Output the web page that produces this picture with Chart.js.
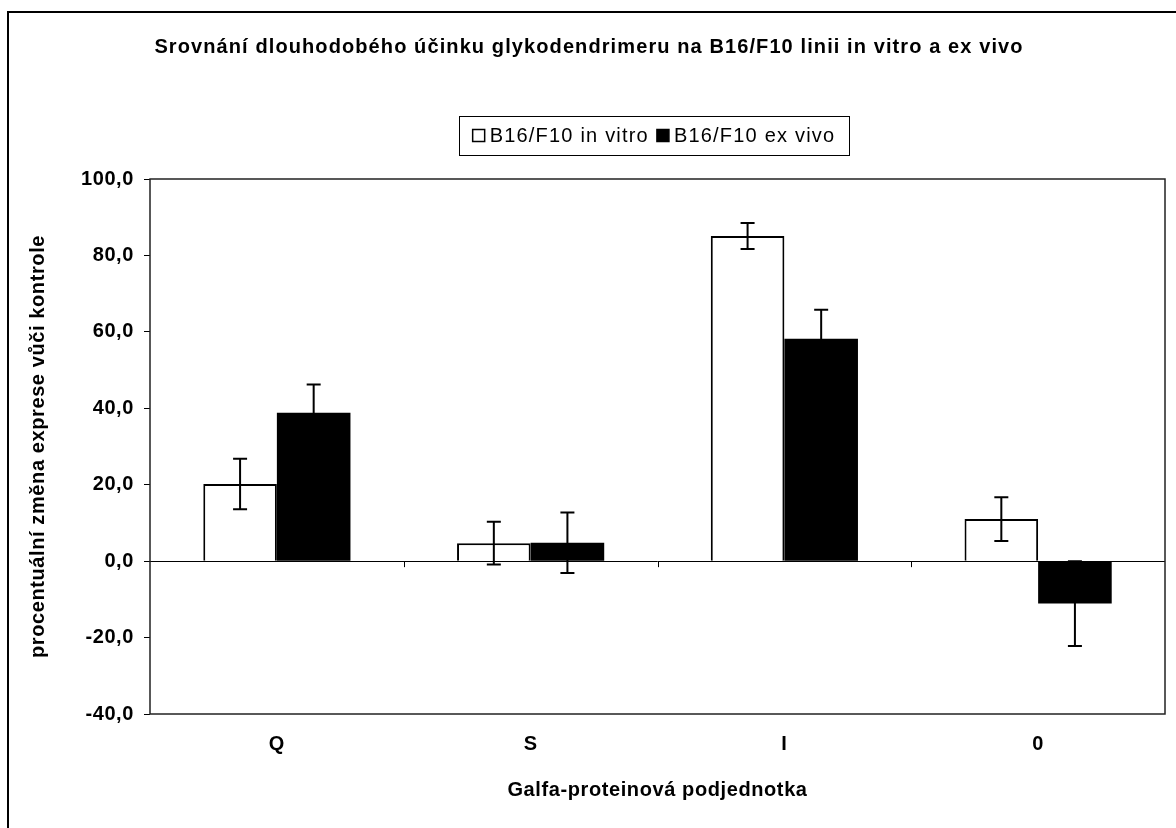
<!DOCTYPE html>
<html>
<head>
<meta charset="utf-8">
<script src="https://cdn.jsdelivr.net/npm/chart.js@4"></script>
<style>
body{margin:0;background:#fff;}
#wrap{width:1176px;height:828px;position:relative;}
</style>
</head>
<body>
<div id="wrap"><canvas id="chart"></canvas></div>
<script>
const categories = ["Q", "S", "I", "0"];
const inVitro = [20.2, 4.7, 85.1, 11.0];
const inVitroErr = [6.6, 5.6, 3.4, 5.7];
const exVivo = [38.8, 4.8, 58.2, -11.1];
const exVivoErr = [7.4, 7.9, 7.6, 11.1];
const yTicks = [-40, -20, 0, 20, 40, 60, 80, 100];

const titleText = "Srovnání dlouhodobého účinku glykodendrimeru na B16/F10 linii in vitro a ex vivo";
const yTitle = "procentuální změna exprese vůči kontrole";
const xTitle = "Galfa-proteinová podjednotka";

const FONT = "'Liberation Sans', Arial, sans-serif";
const errors = [inVitroErr, exVivoErr];

// scanned text runs a little wider than plain Arial
const spacing = {
id: "spacing",
beforeDraw(chart){
chart.ctx.letterSpacing = "0.6px";
}
};

// frame, title, legend
const decor = {
id: "decor",
afterDraw(chart){
const ctx = chart.ctx;
const a = chart.chartArea;
ctx.save();

// outer frame (top + left only visible)
ctx.strokeStyle = "#000";
ctx.lineWidth = 2;
ctx.beginPath();
ctx.moveTo(8, 828);
ctx.lineTo(8, 12);
ctx.lineTo(1176, 12);
ctx.stroke();

// plot box
ctx.lineWidth = 1.5;
ctx.strokeStyle = "#222";
ctx.strokeRect(a.left, a.top, a.right - a.left, a.bottom - a.top);

// title
ctx.fillStyle = "#000";
ctx.letterSpacing = "1.1px";
ctx.font = "bold 20px " + FONT;
ctx.textAlign = "center";
ctx.textBaseline = "middle";
ctx.fillText(titleText, 589, 47);

// legend
ctx.font = "20px " + FONT;
ctx.letterSpacing = "1.2px";
ctx.textAlign = "left";
const ds = chart.data.datasets;
const sq = 12, gap = 5, sep = 8;
let w = 0;
ds.forEach((d, i) => { w += sq + gap + ctx.measureText(d.label).width + (i < ds.length - 1 ? sep : 0); });
const bx = 459, bw = 390, by = 116, bh = 39;
ctx.lineWidth = 1;
ctx.strokeStyle = "#000";
ctx.strokeRect(bx + 0.5, by + 0.5, bw, bh);
let x = bx + (bw - w) / 2;
const cy = by + bh / 2;
ds.forEach(d => {
ctx.fillStyle = d.backgroundColor;
ctx.fillRect(x, cy - sq / 2, sq, sq);
ctx.lineWidth = 1.5;
ctx.strokeRect(x, cy - sq / 2, sq, sq);
ctx.fillStyle = "#000";
ctx.fillText(d.label, x + sq + gap, cy + 1);
x += sq + gap + ctx.measureText(d.label).width + sep;
});

// category tick marks on the zero line
const xs = chart.scales.x, ys = chart.scales.y;
const y0 = ys.getPixelForValue(0);
ctx.lineWidth = 1;
for (let i = 1; i < categories.length; i++){
const px = Math.round((xs.getPixelForValue(i - 1) + xs.getPixelForValue(i)) / 2) + 0.5;
ctx.beginPath();
ctx.moveTo(px, y0);
ctx.lineTo(px, y0 + 6);
ctx.stroke();
}
ctx.restore();
}
};

// error bars
const errBars = {
id: "errBars",
afterDatasetsDraw(chart){
const ctx = chart.ctx;
const ys = chart.scales.y;
ctx.save();
ctx.strokeStyle = "#000";
ctx.lineWidth = 2;
chart.data.datasets.forEach((d, di) => {
const meta = chart.getDatasetMeta(di);
meta.data.forEach((bar, i) => {
const v = d.data[i], e = errors[di][i];
const t = ys.getPixelForValue(v + e);
const b = ys.getPixelForValue(v - e);
ctx.beginPath();
ctx.moveTo(bar.x, t); ctx.lineTo(bar.x, b);
ctx.moveTo(bar.x - 7, t); ctx.lineTo(bar.x + 7, t);
ctx.moveTo(bar.x - 7, b); ctx.lineTo(bar.x + 7, b);
ctx.stroke();
});
});
ctx.restore();
}
};

const chart = new Chart(document.getElementById("chart"), {
type: "bar",
data: {
labels: categories,
datasets: [
{label: "B16/F10 in vitro", data: inVitro, backgroundColor: "#ffffff", borderColor: "#000", borderWidth: 2},
{label: "B16/F10 ex vivo", data: exVivo, backgroundColor: "#000000", borderColor: "#000", borderWidth: 0}
]
},
options: {
responsive: true,
maintainAspectRatio: false,
animation: false,
layout: {padding: {left: 0, right: 11, top: 179, bottom: 0}},
plugins: {legend: {display: false}, title: {display: false}, tooltip: {enabled: false}},
datasets: {bar: {barPercentage: 1, categoryPercentage: 0.58}},
scales: {
x: {
grid: {display: false, drawTicks: false},
border: {display: false},
ticks: {color: "#000", font: {family: FONT, size: 20, weight: "bold"}, padding: 18},
title: {display: true, text: xTitle, color: "#000", font: {family: FONT, size: 20, weight: "bold"}, padding: {top: 0, bottom: 26}},
afterFit: s => { s.height = 114; }
},
y: {
min: -40, max: 100,
afterBuildTicks: s => { s.ticks = yTicks.map(v => ({value: v})); },
grid: {
drawOnChartArea: true,
color: c => (c.tick && c.tick.value === 0) ? "#000" : "rgba(0,0,0,0)",
tickColor: "#000",
tickLength: 6,
lineWidth: 1
},
border: {display: false},
ticks: {
color: "#000",
font: {family: FONT, size: 20, weight: "bold"},
padding: 10,
callback: v => v.toFixed(1).replace(".", ",")
},
title: {display: true, text: yTitle, color: "#000", font: {family: FONT, size: 20, weight: "bold"}, padding: {top: 26, bottom: 0}},
afterFit: s => { s.width = 150; }
}
}
},
plugins: [spacing, errBars, decor]
});
</script>
</body>
</html>
